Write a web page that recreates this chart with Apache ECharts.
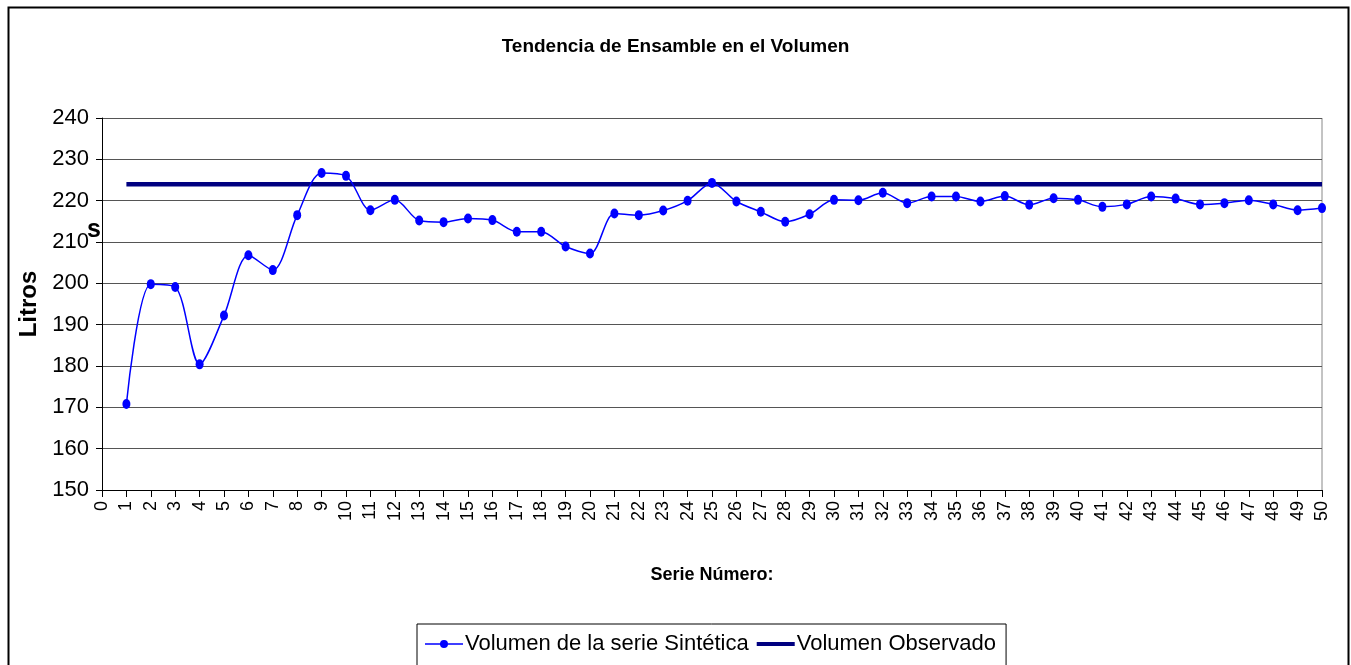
<!DOCTYPE html>
<html>
<head>
<meta charset="utf-8">
<title>Tendencia de Ensamble en el Volumen</title>
<script src="https://cdn.jsdelivr.net/npm/echarts@6/dist/echarts.min.js"></script>
<style>
  html, body { margin: 0; padding: 0; background: #fff; }
  #chart { width: 1351px; height: 665px; }
</style>
</head>
<body>
<div id="chart"></div>
<script>
// etiquetas del eje x (serie número 0..50)
const categorias = ['0','1','2','3','4','5','6','7','8','9','10','11','12','13','14','15','16','17','18','19','20',
  '21','22','23','24','25','26','27','28','29','30','31','32','33','34','35','36','37','38','39','40',
  '41','42','43','44','45','46','47','48','49','50']

// volumen de la serie sintética (la serie 0 no tiene valor)
const volumenSintetico = [null,
  170.8, 199.8, 199.1, 180.4, 192.2, 206.8, 203.2, 216.5, 226.7, 226.0,
  217.7, 220.2, 215.2, 214.8, 215.7, 215.3, 212.5, 212.5, 208.9, 207.2,
  216.9, 216.5, 217.6, 220.0, 224.3, 219.8, 217.3, 214.9, 216.7, 220.2,
  220.1, 221.9, 219.4, 221.0, 221.0, 219.8, 221.1, 219.0, 220.6, 220.2,
  218.5, 219.1, 221.0, 220.5, 219.1, 219.4, 220.1, 219.1, 217.7, 218.2]

// volumen observado (constante)
const volumenObservado = [null,
  224, 224, 224, 224, 224, 224, 224, 224, 224, 224,
  224, 224, 224, 224, 224, 224, 224, 224, 224, 224,
  224, 224, 224, 224, 224, 224, 224, 224, 224, 224,
  224, 224, 224, 224, 224, 224, 224, 224, 224, 224,
  224, 224, 224, 224, 224, 224, 224, 224, 224, 224]

const yTicks = { min: 150, max: 240, interval: 10 }

const fuente = "'Liberation Sans Narrow', 'Arial Narrow', 'Liberation Sans', sans-serif"

const chart = echarts.init(document.getElementById('chart'))

const option = {
  backgroundColor: '#fff',
  animation: false,
  textStyle: { fontFamily: fuente, color: '#000' },
  title: {
    text: 'Tendencia de Ensamble en el Volumen',
    left: 'center',
    top: 32,
    textStyle: { fontFamily: fuente, fontSize: 19, fontWeight: 'bold', color: '#000' }
  },
  legend: {
    bottom: -4,
    left: 417,
    itemGap: 8,
    itemWidth: 38,
    itemHeight: 14,
    padding: [9, 10, 14, 8],
    borderColor: '#000',
    borderWidth: 1,
    textStyle: { fontFamily: fuente, fontSize: 22, color: '#000', padding: [0, 0, 0, -3] },
    data: [
      { name: 'Volumen de la serie Sintética', icon: 'path://M0,6.3 L38,6.3 L38,7.7 L0,7.7 Z M15,7 A4,4 0 1 1 23,7 A4,4 0 1 1 15,7 Z', itemStyle: { color: '#0000ff' } },
      { name: 'Volumen Observado', icon: 'path://M0,5 L38,5 L38,9 L0,9 Z', itemStyle: { color: '#000080' } }
    ]
  },
  grid: { left: 102, right: 29, top: 118, bottom: 175, containLabel: false },
  xAxis: {
    type: 'category',
    data: categorias,
    boundaryGap: false,
    name: 'Serie Número:',
    nameLocation: 'middle',
    nameGap: 76,
    nameTextStyle: { fontFamily: fuente, fontSize: 18, fontWeight: 'bold', color: '#000' },
    axisLine: { lineStyle: { color: '#000', width: 1 } },
    axisTick: { show: true, alignWithLabel: true, length: 7, lineStyle: { color: '#000' } },
    axisLabel: {
      interval: 0,
      rotate: 90,
      margin: 11,
      fontFamily: fuente,
      fontSize: 18,
      color: '#000'
    },
    splitLine: { show: false }
  },
  yAxis: {
    type: 'value',
    min: yTicks.min,
    max: yTicks.max,
    interval: yTicks.interval,
    name: 'Litros',
    nameLocation: 'middle',
    nameGap: 54,
    nameRotate: 90,
    nameTextStyle: { fontFamily: fuente, fontSize: 24, fontWeight: 'bold', color: '#000' },
    axisLine: { show: true, lineStyle: { color: '#000', width: 1 } },
    axisTick: { show: true, length: 6, lineStyle: { color: '#000' } },
    axisLabel: { fontFamily: fuente, fontSize: 22, color: '#000', margin: 13 },
    splitLine: { show: true, lineStyle: { color: '#555', width: 1 } }
  },
  graphic: [
    {
      type: 'rect',
      left: 6, top: 5,
      shape: { width: 1340, height: 680 },
      style: { fill: 'none', stroke: '#000', lineWidth: 2 },
      silent: true
    },
    {
      type: 'line',
      shape: { x1: 1322, y1: 118, x2: 1322, y2: 490 },
      style: { stroke: '#888', lineWidth: 1 },
      silent: true
    },
    {
      type: 'text',
      left: 87, top: 218,
      style: { text: 's', font: 'bold 25px ' + fuente, fill: '#000' },
      silent: true
    }
  ],
  series: [
    {
      name: 'Volumen de la serie Sintética',
      type: 'line',
      data: volumenSintetico,
      smooth: 0.3,
      symbol: 'circle',
      symbolSize: [8, 10],
      showAllSymbol: true,
      lineStyle: { color: '#0000ff', width: 1.5 },
      itemStyle: { color: '#0000ff' },
      z: 3
    },
    {
      name: 'Volumen Observado',
      type: 'line',
      data: volumenObservado,
      symbol: 'none',
      lineStyle: { color: '#000080', width: 4.5 },
      itemStyle: { color: '#000080' },
      z: 2
    }
  ]
}

chart.setOption(option)
</script>
</body>
</html>
